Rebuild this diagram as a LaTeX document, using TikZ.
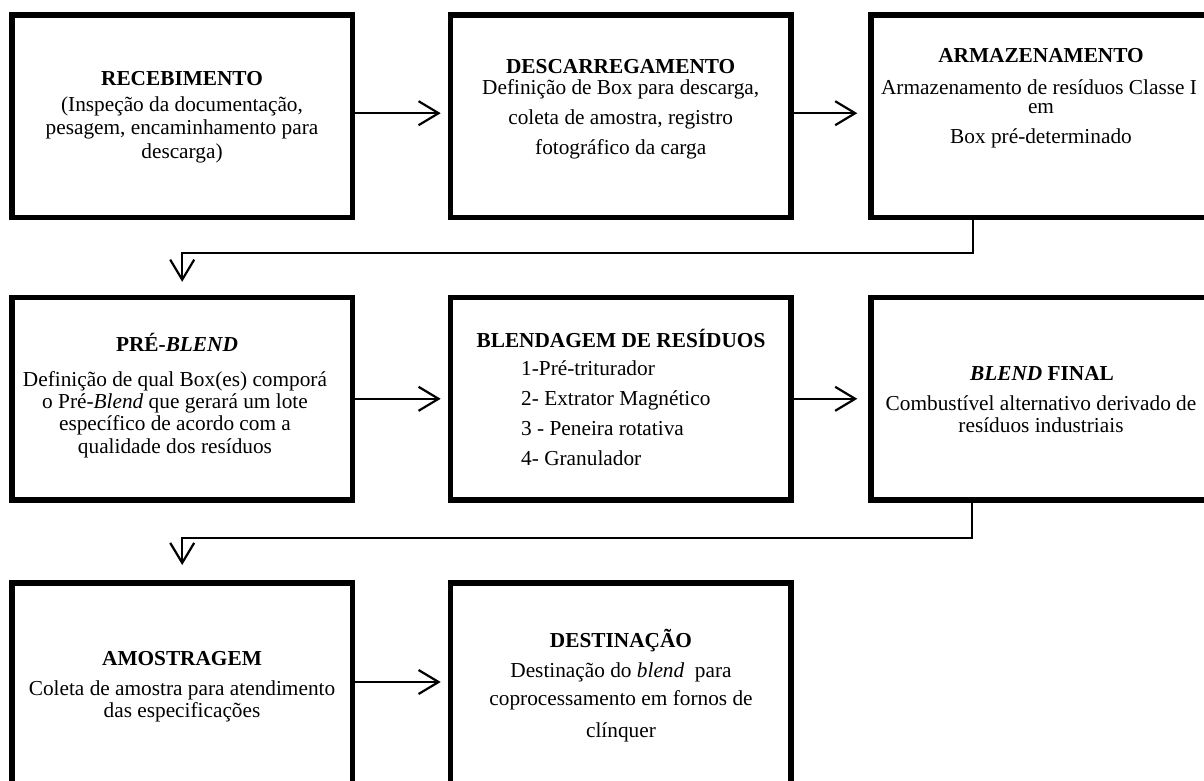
\documentclass[tikz,border=0pt]{standalone}
\usepackage{fontspec}
\setmainfont{Liberation Serif}
\usetikzlibrary{arrows.meta,calc}
\begin{document}
\begin{tikzpicture}[x=1pt,y=-1pt,
  stage/.style={draw=black, line width=5.5pt, minimum width=340.5pt, minimum height=202.5pt, inner sep=0pt},
  txt/.style={anchor=base, inner sep=0pt, font=\fontsize{21.3pt}{23pt}\selectfont},
  ttl/.style={txt, font=\fontsize{21.3pt}{23pt}\selectfont\bfseries},
  lft/.style={txt, anchor=base west},
  arr/.style={line width=2.2pt, -{Straight Barb[length=20pt,width=24pt]}}]
\useasboundingbox (0,0) rectangle (1204,780);
\fill[white] (0,0) rectangle (1204,780);
% boxes
\node[stage] (b1) at (182.2,116.2) {};
\node[stage] (b2) at (620.7,116.2) {};
\node[stage] (b3) at (1041.3,116.2) {};
\node[stage] (b4) at (182.2,398.8) {};
\node[stage] (b5) at (620.7,398.8) {};
\node[stage] (b6) at (1041.3,398.8) {};
\node[stage] (b7) at (182.2,684) {};
\node[stage] (b8) at (620.7,684) {};
% texts box 1
\node[ttl] (t1a) at (182,85) {RECEBIMENTO};
\node[txt] (t1b) at (182,111) {(Inspeção da documentação,};
\node[txt] (t1c) at (182,134.5) {pesagem, encaminhamento para};
\node[txt] (t1d) at (182,158) {descarga)};
% box 2
\node[ttl] (t2a) at (620.7,73) {DESCARREGAMENTO};
\node[txt] (t2b) at (620.7,94.5) {Definição de Box para descarga,};
\node[txt] (t2c) at (620.7,124.5) {coleta de amostra, registro};
\node[txt] (t2d) at (620.7,154.5) {fotográfico da carga};
% box 3
\node[ttl] (t3a) at (1041,62) {ARMAZENAMENTO};
\node[txt] (t3b) at (1039,94) {Armazenamento de resíduos Classe I};
\node[txt] (t3c) at (1041,113) {em};
\node[txt] (t3d) at (1041,143) {Box pré-determinado};
% box 4
\node[ttl] (t4a) at (177,351) {PRÉ-\textit{BLEND}};
\node[txt] (t4b) at (175,386.5) {Definição de qual Box(es) comporá};
\node[txt] (t4c) at (175,408.5) {o Pré-\textit{Blend} que gerará um lote};
\node[txt] (t4d) at (175,430.5) {específico de acordo com a};
\node[txt] (t4e) at (175,453) {qualidade dos resíduos};
% box 5
\node[ttl] (t5a) at (621,347) {BLENDAGEM DE RESÍDUOS};
\node[lft] (t5b) at (521,375) {1-Pré-triturador};
\node[lft] (t5c) at (521,405) {2- Extrator Magnético};
\node[lft] (t5d) at (521,435) {3 - Peneira rotativa};
\node[lft] (t5e) at (521,465) {4- Granulador};
% box 6
\node[ttl] (t6a) at (1042,380) {\textit{BLEND} FINAL};
\node[txt] (t6b) at (1041,410) {Combustível alternativo derivado de};
\node[txt] (t6c) at (1041,432) {resíduos industriais};
% box 7
\node[ttl] (t7a) at (182,665) {AMOSTRAGEM};
\node[txt] (t7b) at (182,695) {Coleta de amostra para atendimento};
\node[txt] (t7c) at (182,717) {das especificações};
% box 8
\node[ttl] (t8a) at (621,647) {DESTINAÇÃO};
\node[txt] (t8b) at (621,677) {Destinação do \textit{blend}\ \ para};
\node[txt] (t8c) at (621,705) {coprocessamento em fornos de};
\node[txt] (t8d) at (621,737) {clínquer};
% connectors
\draw[arr] ([yshift=3pt]b1.east) -- ([yshift=3pt,xshift=-7pt]b2.west);
\draw[arr] ([yshift=3pt]b2.east) -- ([yshift=3pt,xshift=-11pt]b3.west);
\draw[arr] (b4.east) -- ([xshift=-7pt]b5.west);
\draw[arr] (b5.east) -- ([xshift=-11pt]b6.west);
\draw[arr] ([yshift=2pt]b7.east) -- ([yshift=2pt,xshift=-7pt]b8.west);
\coordinate (k1) at (973,253);
\coordinate (k2) at (972,538);
\draw[arr] (b3.south -| k1) -- (k1) -| ([yshift=13pt]b4.north);
\draw[arr] (b6.south -| k2) -- (k2) -| ([yshift=15pt]b7.north);
\end{tikzpicture}
\end{document}
